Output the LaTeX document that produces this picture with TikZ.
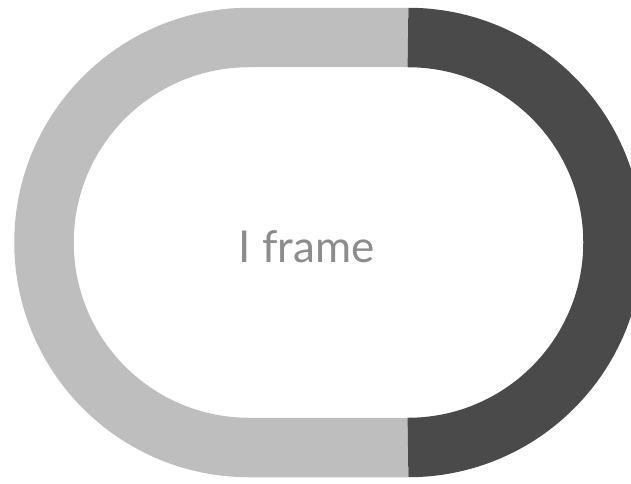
\documentclass[tikz,border=0pt]{standalone}
\usepackage{fontspec}
\setmainfont{Lato}
\definecolor{FrameLight}{HTML}{BEBEBE}
\definecolor{FrameDark}{HTML}{4A4A4A}
\definecolor{FrameText}{HTML}{8C8C8C}

\begin{document}
\begin{tikzpicture}[x=0.02cm, y=-0.02cm]
    \useasboundingbox (0,0) rectangle (631,483);
    \clip (0,0) rectangle (631,483);

    % ========== Track: light part (left end and straight runs) ==========
    \draw[FrameLight, line width=1.19cm] (408,37.5) -- (249,37.5)
        arc[start angle=-90, end angle=-270, radius=205] -- (408,447.5);

    % ========== Track: dark part (right end) ==========
    \draw[FrameDark, line width=1.19cm] (408,37.5)
        arc[start angle=-90, end angle=90, radius=205];

    % Label
    \node[anchor=base, inner sep=0pt, text=FrameText, font=\fontsize{25}{30}\selectfont] (label) at (306.5,262) {I frame};

\end{tikzpicture}
\end{document}
